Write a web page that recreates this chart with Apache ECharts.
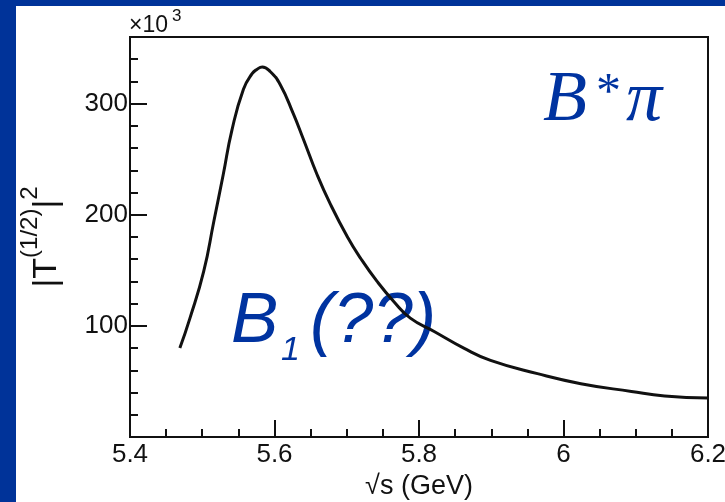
<!DOCTYPE html>
<html>
<head>
<meta charset="utf-8">
<script src="https://cdn.jsdelivr.net/npm/echarts@6/dist/echarts.min.js"></script>
<style>
  html, body { margin: 0; padding: 0; background: #003399; width: 725px; height: 502px; overflow: hidden; }
  #chart { position: absolute; left: 16px; top: 6px; width: 709px; height: 496px; background: #ffffff; }
</style>
</head>
<body>
<div id="chart"></div>
<script>
// |T^(1/2)|^2 line shape versus sqrt(s), values in units of 10^3
const sqrtS = [5.469, 5.483, 5.502, 5.516, 5.529, 5.541, 5.557, 5.569, 5.576, 5.583, 5.594,
               5.608, 5.626, 5.640, 5.659, 5.677, 5.701, 5.719, 5.742, 5.765, 5.788, 5.821, 5.862,
               5.899, 5.964, 6.024, 6.094, 6.140, 6.200];
const amp2 = [80, 107, 149, 194, 236, 276, 313, 327, 331, 333, 329,
              317, 291, 268, 236, 210, 180, 161, 140, 122, 107, 95, 80,
              69, 57, 48, 41, 37, 35];

const xTicks = [5.4, 6.2, 0.2];     // min, max, major step
const yTicks = [0, 360, 100, 20];   // min, max, major step, minor step

const ink = '#111111';
const blue = '#0033a0';
const sans = 'Liberation Sans, Arial, sans-serif';
const serif = 'Liberation Serif, Times New Roman, serif';

const chart = echarts.init(document.getElementById('chart'), null, { renderer: 'canvas' });

chart.setOption({
  animation: false,
  backgroundColor: '#ffffff',
  grid: {
    left: 114, right: 17, top: 31, bottom: 65,
    outerBoundsMode: 'none',
    containLabel: false,
    show: true, borderColor: ink, borderWidth: 2, backgroundColor: 'transparent'
  },
  xAxis: {
    type: 'value',
    min: xTicks[0], max: xTicks[1], interval: xTicks[2],
    axisLine: { show: true, onZero: false, lineStyle: { color: ink, width: 2 } },
    axisTick: { show: true, inside: true, length: 17, lineStyle: { color: ink, width: 2 } },
    minorTick: { show: true, splitNumber: 4, length: 8, lineStyle: { color: ink, width: 2 } },
    axisLabel: { fontFamily: sans, fontSize: 26, color: ink, margin: 5 },
    splitLine: { show: false },
    minorSplitLine: { show: false },
    name: '√s (GeV)',
    nameLocation: 'middle',
    nameGap: 33,
    nameTextStyle: { fontFamily: sans, fontSize: 27, color: ink }
  },
  yAxis: [
    {
      type: 'value',
      position: 'left',
      min: yTicks[0], max: yTicks[1], interval: yTicks[2],
      axisLine: { show: true, onZero: false, lineStyle: { color: ink, width: 2 } },
      axisTick: { show: true, inside: true, length: 17, lineStyle: { color: ink, width: 2 } },
      axisLabel: {
        fontFamily: sans, fontSize: 26, color: ink, margin: 2,
        showMinLabel: false, showMaxLabel: false,
        formatter: v => (v === yTicks[0] || v === yTicks[1]) ? '' : String(v)
      },
      splitLine: { show: false },
      name: '{m||T}{s|(1/2)}{m||}{s|2}',
      nameLocation: 'middle',
      nameRotate: 90,
      nameGap: 66,
      nameTextStyle: {
        color: ink,
        rich: {
          m: { fontFamily: sans, fontSize: 34, color: ink, lineHeight: 46, verticalAlign: 'bottom' },
          s: { fontFamily: sans, fontSize: 24, color: ink, lineHeight: 46, verticalAlign: 'top' }
        }
      }
    },
    {
      type: 'value',
      position: 'left',
      min: yTicks[0], max: yTicks[1], interval: yTicks[3],
      axisLine: { show: false },
      axisTick: { show: true, inside: true, length: 8, lineStyle: { color: ink, width: 2 } },
      axisLabel: { show: false },
      splitLine: { show: false }
    }
  ],
  series: [{
    type: 'line',
    xAxisIndex: 0,
    yAxisIndex: 0,
    data: sqrtS.map((x, i) => [x, amp2[i]]),
    smooth: 0.5,
    showSymbol: false,
    lineStyle: { color: ink, width: 3 }
  }],
  graphic: [
    // exponent of the vertical axis
    { type: 'text', x: 113, y: 20, style: { text: '×10', font: '23px ' + sans, fill: ink, textAlign: 'left', textVerticalAlign: 'middle' } },
    { type: 'text', x: 156, y: 10, style: { text: '3', font: '17px ' + sans, fill: ink, textAlign: 'left', textVerticalAlign: 'middle' } },
    // channel label
    { type: 'text', x: 527, y: 95, style: { text: 'B', font: 'italic 72px ' + serif, fill: blue, textAlign: 'left', textVerticalAlign: 'middle' } },
    { type: 'text', x: 580, y: 88, style: { text: '*', font: '50px ' + serif, fill: blue, textAlign: 'left', textVerticalAlign: 'middle' } },
    { type: 'text', x: 610, y: 95, style: { text: 'π', font: 'italic 72px ' + serif, fill: blue, textAlign: 'left', textVerticalAlign: 'middle' } },
    // resonance label
    { type: 'text', x: 215, y: 316, style: { text: 'B', font: 'italic 71px ' + sans, fill: blue, textAlign: 'left', textVerticalAlign: 'middle' } },
    { type: 'text', x: 265, y: 345, style: { text: '1', font: 'italic 34px ' + sans, fill: blue, textAlign: 'left', textVerticalAlign: 'middle' } },
    { type: 'text', x: 294, y: 316, style: { text: '(??)', font: 'italic 71px ' + sans, fill: blue, textAlign: 'left', textVerticalAlign: 'middle' } }
  ]
});
</script>
</body>
</html>
